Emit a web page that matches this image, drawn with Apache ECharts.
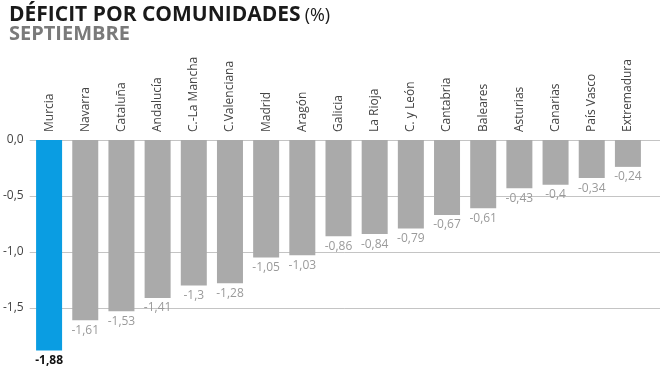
<!DOCTYPE html>
<html><head><meta charset="utf-8">
<script src="https://cdn.jsdelivr.net/npm/echarts@6/dist/echarts.min.js"></script>
<style>html,body{margin:0;padding:0;background:#fff}#c{width:660px;height:371px}</style>
</head><body><div id="c"></div>
<script>
const categories = ['Murcia','Navarra','Cataluña','Andalucía','C.-La Mancha','C.Valenciana','Madrid','Aragón','Galicia','La Rioja','C. y León','Cantabria','Baleares','Asturias','Canarias','País Vasco','Extremadura'];
const values = [-1.88,-1.61,-1.53,-1.41,-1.3,-1.28,-1.05,-1.03,-0.86,-0.84,-0.79,-0.67,-0.61,-0.43,-0.4,-0.34,-0.24];
const yTicks = [0,-0.5,-1,-1.5];
const highlightIndex = 0;

const font = '"Open Sans", "Noto Sans", sans-serif';
const fmt = v => String(v).replace('.', ',');
const chart = echarts.init(document.getElementById('c'), null, {renderer:'canvas'});
const lineColors = ['rgba(0,0,0,0)', '#c4c4c4', '#c4c4c4', '#c4c4c4', '#c4c4c4'];
chart.setOption({
  animation:false,
  textStyle:{fontFamily:font},
  title:{
    left:4, top:1,
    text:'{a|DÉFICIT POR COMUNIDADES}{b|(%)}\n{c|SEPTIEMBRE}',
    textStyle:{
      rich:{
        a:{fontFamily:font,fontWeight:'bold',fontSize:21,color:'#1a1a1a',lineHeight:19},
        b:{fontFamily:font,fontWeight:'normal',fontSize:18,color:'#1a1a1a',lineHeight:19,padding:[0,0,0,4]},
        c:{fontFamily:font,fontWeight:'bold',fontSize:20,color:'#7a7a7a',lineHeight:19}
      }
    }
  },
  grid:[
    {left:31, right:14, top:140, bottom:7},
    {left:28, right:0, top:140, bottom:7}
  ],
  xAxis:[
    {type:'category', gridIndex:0, data:categories, position:'top',
     axisLine:{show:false}, axisTick:{show:false},
     axisLabel:{rotate:90, interval:0, margin:8, fontSize:12, color:'#444', fontFamily:font}},
    {type:'category', gridIndex:1, data:['a'], show:false}
  ],
  yAxis:[
    {type:'value', gridIndex:0, min:-2, max:0, interval:0.5,
     splitLine:{show:false}, axisLine:{show:false}, axisTick:{show:false},
     axisLabel:{show:false}},
    {type:'value', gridIndex:1, min:-2, max:0, interval:0.5,
     axisLine:{show:false}, axisTick:{show:false},
     splitLine:{show:true, lineStyle:{color:lineColors, width:1}},
     axisLabel:{margin:6, fontSize:12, color:'#444', fontFamily:font,
       formatter: v => yTicks.some(t => Math.abs(t - v) < 1e-9) ? (v === 0 ? '0,0' : v.toFixed(1).replace('.', ',')) : ''}}
  ],
  series:[{
    type:'bar', xAxisIndex:0, yAxisIndex:0, barWidth:26, z:3,
    data: values.map((v,i) => ({
      value:v,
      itemStyle:{color: i === highlightIndex ? '#0a9de2' : '#aaaaaa'},
      label: i === highlightIndex ? {color:'#111', fontWeight:'bold'} : {}
    })),
    label:{show:true, position:'bottom', distance:4, fontSize:12, color:'#9a9a9a', fontFamily:font,
      formatter: p => fmt(p.value)}
  }]
});
</script></body></html>
